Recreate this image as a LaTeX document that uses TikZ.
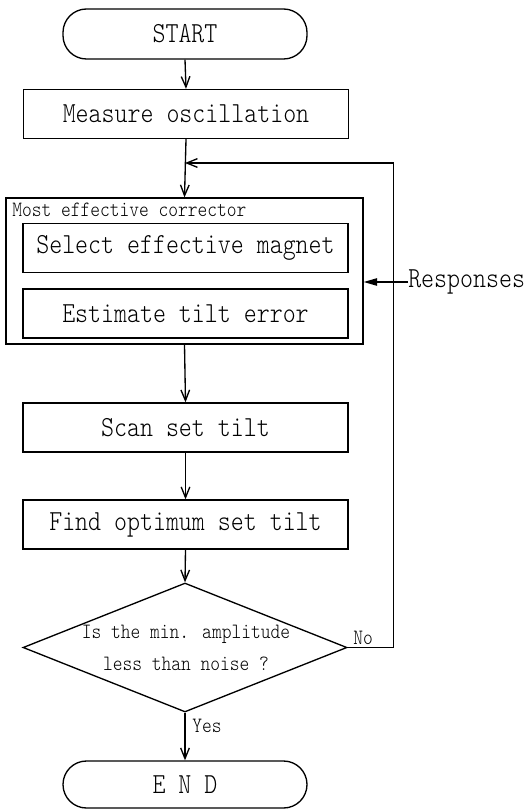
\documentclass[tikz,border=0pt]{standalone}
\usepackage{fontspec}
\newfontfamily\dmono{lmmonolt10-regular.otf}[FakeStretch=0.85]
\usetikzlibrary{arrows.meta,shapes.geometric}
\tikzset{
  bigtxt/.style={font=\fontsize{21.8}{26}\dmono\selectfont},
  smalltxt/.style={font=\fontsize{16.4}{24}\dmono\selectfont},
  box/.style={draw, line width=1pt, rectangle, inner sep=0pt, minimum width=243.75pt, minimum height=36.75pt, bigtxt},
  term/.style={draw, line width=1pt, rounded corners=17.6pt, inner sep=0pt, minimum width=183pt, minimum height=36pt, bigtxt},
  flow/.style={line width=1pt, -{Straight Barb[length=8pt,width=6.5pt]}},
  resp/.style={line width=1pt, -{Triangle[length=10pt,width=5.5pt]}},
}
\begin{document}
\begin{tikzpicture}[x=0.75pt,y=-0.75pt]
\useasboundingbox (0,0) rectangle (527,809);
\node[term, minimum height=37.5pt] (start) at (185,34) {START};
\node[box] (measure) at (186,114) {Measure oscillation};
\node[draw, line width=1pt, rectangle, inner sep=0pt, minimum width=267.75pt, minimum height=109.5pt] (outer) at (184.5,271) {};
\node[smalltxt, anchor=base west, inner sep=0pt] (outerlabel) at (12,217) {Most effective corrector};
\node[box] (select) at (185.5,248) {Select effective magnet};
\node[box] (estimate) at (185.5,313.5) {Estimate tilt error};
\node[box] (scan) at (185.5,427.5) {Scan set tilt};
\node[box] (find) at (185.5,524.5) {Find optimum set tilt};
\node[draw, line width=1pt, diamond, inner sep=0pt, minimum width=243pt, minimum height=96.75pt] (dec) at (185,647.5) {};
\node[smalltxt, align=center, inner sep=0pt] (dectext) at (186,648) {Is the min. amplitude\\less than noise ?};
\node[term, minimum height=35.25pt] (end) at (185,784.5) {E N D};
\coordinate (j) at (185,163);
\node[bigtxt, anchor=west, inner sep=0pt] (responses) at (408,282) {Responses};
\node[smalltxt, anchor=base west, inner sep=0pt] (no) at (353,644) {No};
\node[smalltxt, anchor=base west, inner sep=0pt] (yes) at (192,732) {Yes};

\draw[flow] (start.south) -- (measure.north);
\draw[flow] (measure.south) -- (outer.north);
\draw[flow] (outer.south) -- (scan.north);
\draw[flow] (scan.south) -- (find.north);
\draw[flow] (find.south) -- (dec.north);
\draw[flow] (dec.south) -- (end.north);
\draw[flow] (dec.east) -- ++(46,0) |- (j);
\draw[resp] (responses.west) -- (outer.east |- responses.west);
\end{tikzpicture}
\end{document}
